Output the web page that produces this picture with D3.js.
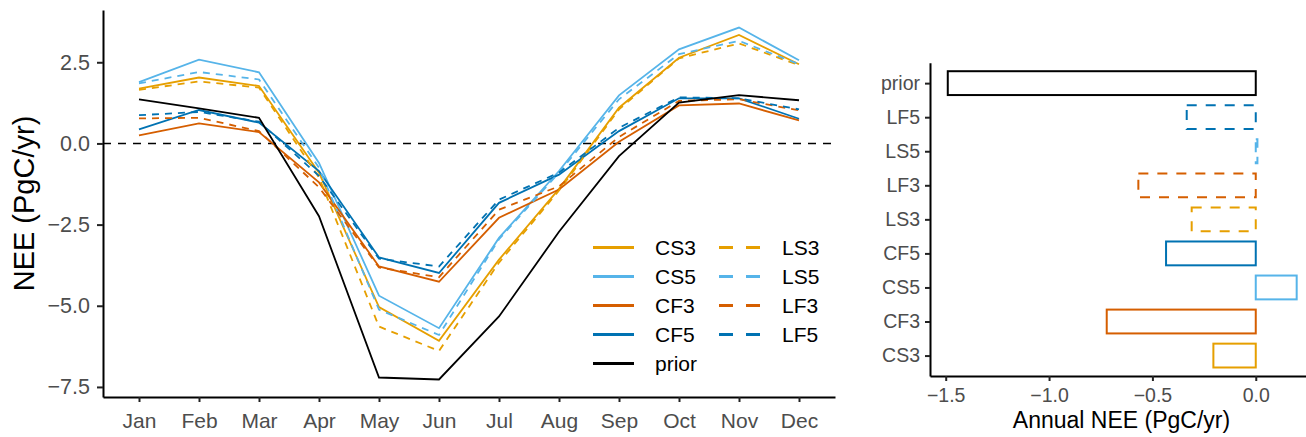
<!DOCTYPE html>
<html>
<head>
<meta charset="utf-8">
<script src="https://cdn.jsdelivr.net/npm/d3@7"></script>
<style>
  body { margin: 0; background: #fff; }
  svg { font-family: "Liberation Sans", Arial, Helvetica, sans-serif; display: block; }
  .axis .domain { stroke: #000; stroke-width: 2; }
  .axis .tick line { stroke: #222; stroke-width: 2; }
  .axis .tick text { fill: #4d4d4d; }
</style>
</head>
<body>
<svg id="chart" width="1306" height="437"></svg>
<script>
// monthly NEE (PgC/yr)
const months = ['Jan', 'Feb', 'Mar', 'Apr', 'May', 'Jun', 'Jul', 'Aug', 'Sep', 'Oct', 'Nov', 'Dec'];
const CS3 = [1.69, 2.03, 1.77, -0.9, -5.04, -6.08, -3.58, -1.4, 1.1, 2.64, 3.34, 2.44];
const LS3 = [1.65, 1.91, 1.72, -1.05, -5.64, -6.39, -3.67, -1.45, 1.05, 2.62, 3.08, 2.41];
const CS5 = [1.89, 2.58, 2.19, -0.6, -4.69, -5.69, -2.91, -0.85, 1.48, 2.9, 3.57, 2.56];
const LS5 = [1.85, 2.2, 1.97, -0.75, -5.12, -5.9, -2.95, -0.9, 1.36, 2.75, 3.16, 2.44];
const CF3 = [0.25, 0.62, 0.35, -1.2, -3.79, -4.26, -2.29, -1.42, 0.05, 1.17, 1.23, 0.71];
const LF3 = [0.77, 0.79, 0.38, -1.35, -3.82, -4.12, -2.04, -1.32, 0.2, 1.31, 1.36, 1.02];
const CF5 = [0.43, 1.03, 0.64, -0.85, -3.51, -3.99, -1.83, -0.96, 0.38, 1.39, 1.39, 0.76];
const LF5 = [0.87, 0.97, 0.67, -1.0, -3.55, -3.79, -1.73, -0.9, 0.48, 1.42, 1.39, 1.05];
const prior = [1.36, 1.08, 0.79, -2.24, -7.21, -7.27, -5.33, -2.72, -0.39, 1.26, 1.49, 1.33];
const monthlyTicks = [-7.5, -5.0, -2.5, 0.0, 2.5];

// annual NEE, top to bottom
const annualCats = ['prior', 'LF5', 'LS5', 'LF3', 'LS3', 'CF5', 'CS5', 'CF3', 'CS3'];
const annualVals = [-1.49, -0.334, 0.008, -0.568, -0.31, -0.434, 0.198, -0.721, -0.205];
const annualTicks = [-1.5, -1.0, -0.5, 0.0];

const colors = {CS3: '#E69F00', LS3: '#E69F00', CS5: '#56B4E9', LS5: '#56B4E9',
  CF3: '#D55E00', LF3: '#D55E00', CF5: '#0072B2', LF5: '#0072B2', prior: '#000000'};

const series = [
  {name: 'CS3', values: CS3}, {name: 'CS5', values: CS5},
  {name: 'CF3', values: CF3}, {name: 'CF5', values: CF5},
  {name: 'LS3', values: LS3}, {name: 'LS5', values: LS5},
  {name: 'LF3', values: LF3}, {name: 'LF5', values: LF5},
  {name: 'prior', values: prior}
];
const isDashed = name => name[0] === 'L';

const svg = d3.select('#chart');
const fmt = d3.format('.1f');

// ---- left panel: monthly lines
const left = {x0: 103, x1: 835, y0: 10, y1: 397};

const x = d3.scalePoint()
  .domain(months)
  .range([left.x0, left.x1])
  .padding(0.6);

const y = d3.scaleLinear()
  .domain([-7.81, 4.11])
  .range([left.y1, left.y0]);

svg.append('line')
  .attr('x1', left.x0).attr('x2', left.x1)
  .attr('y1', y(0)).attr('y2', y(0))
  .attr('stroke', '#000').attr('stroke-width', 1.5)
  .attr('stroke-dasharray', '8,7');

const line = d3.line()
  .x((d, i) => x(months[i]))
  .y(d => y(d));

svg.append('g')
  .selectAll('path')
  .data(series)
  .join('path')
    .attr('fill', 'none')
    .attr('stroke', d => colors[d.name])
    .attr('stroke-width', 1.8)
    .attr('stroke-dasharray', d => isDashed(d.name) ? '7,6' : null)
    .attr('d', d => line(d.values));

svg.append('g')
  .attr('class', 'axis')
  .attr('transform', `translate(0,${left.y1})`)
  .call(d3.axisBottom(x).tickSize(5).tickSizeOuter(0).tickPadding(11))
  .call(g => g.selectAll('.tick text').style('font-size', '21px'));

svg.append('g')
  .attr('class', 'axis')
  .attr('transform', `translate(${left.x0},0)`)
  .call(d3.axisLeft(y).tickValues(monthlyTicks).tickFormat(fmt).tickSize(6).tickSizeOuter(0).tickPadding(7))
  .call(g => g.selectAll('.tick text').style('font-size', '21.5px'));

svg.append('text')
  .attr('transform', `translate(34,${(left.y0 + left.y1) / 2}) rotate(-90)`)
  .attr('text-anchor', 'middle')
  .style('font-size', '29px')
  .text('NEE (PgC/yr)');

// legend
const legendCols = [
  {keys: ['CS3', 'CS5', 'CF3', 'CF5', 'prior'], kx: 593, tx: 655},
  {keys: ['LS3', 'LS5', 'LF3', 'LF5'], kx: 719, tx: 782}
];
const legend = svg.append('g');
legendCols.forEach(col => {
  col.keys.forEach((k, i) => {
    const ly = 247.5 + i * 29;
    legend.append('line')
      .attr('x1', col.kx).attr('x2', col.kx + 41)
      .attr('y1', ly).attr('y2', ly)
      .attr('stroke', colors[k]).attr('stroke-width', 3)
      .attr('stroke-dasharray', isDashed(k) ? '14,13' : null);
    legend.append('text')
      .attr('x', col.tx).attr('y', ly)
      .attr('dy', '0.35em')
      .style('font-size', '21px')
      .text(k);
  });
});

// ---- right panel: annual bars
const right = {x0: 930, y0: 62.7, y1: 376};

const xb = d3.scaleLinear()
  .domain([-1.576, 0.282])
  .range([right.x0, right.x0 + 1.858 * 206.7]);

const yb = d3.scalePoint()
  .domain(annualCats)
  .range([right.y0, right.y1])
  .padding(0.6);

const barH = yb.step() * 0.7;

svg.append('g')
  .selectAll('rect')
  .data(annualCats.map((c, i) => ({cat: c, v: annualVals[i]})))
  .join('rect')
    .attr('x', d => xb(Math.min(0, d.v)))
    .attr('width', d => Math.abs(xb(d.v) - xb(0)))
    .attr('y', d => yb(d.cat) - barH / 2)
    .attr('height', barH)
    .attr('fill', 'none')
    .attr('stroke', d => colors[d.cat])
    .attr('stroke-width', 2)
    .attr('stroke-dasharray', d => isDashed(d.cat) ? '10,9' : null);

svg.append('g')
  .attr('class', 'axis')
  .attr('transform', `translate(0,${right.y1})`)
  .call(d3.axisBottom(xb).tickValues(annualTicks).tickFormat(fmt).tickSize(5).tickSizeOuter(0).tickPadding(7))
  .call(g => g.selectAll('.tick text').style('font-size', '19.5px'));

svg.append('g')
  .attr('class', 'axis')
  .attr('transform', `translate(${right.x0},0)`)
  .call(d3.axisLeft(yb).tickSize(5).tickSizeOuter(0).tickPadding(5))
  .call(g => g.selectAll('.tick text').style('font-size', '19.5px'));

svg.append('text')
  .attr('x', 1121.5).attr('y', 428)
  .attr('text-anchor', 'middle')
  .style('font-size', '23px')
  .text('Annual NEE (PgC/yr)');
</script>
</body>
</html>
